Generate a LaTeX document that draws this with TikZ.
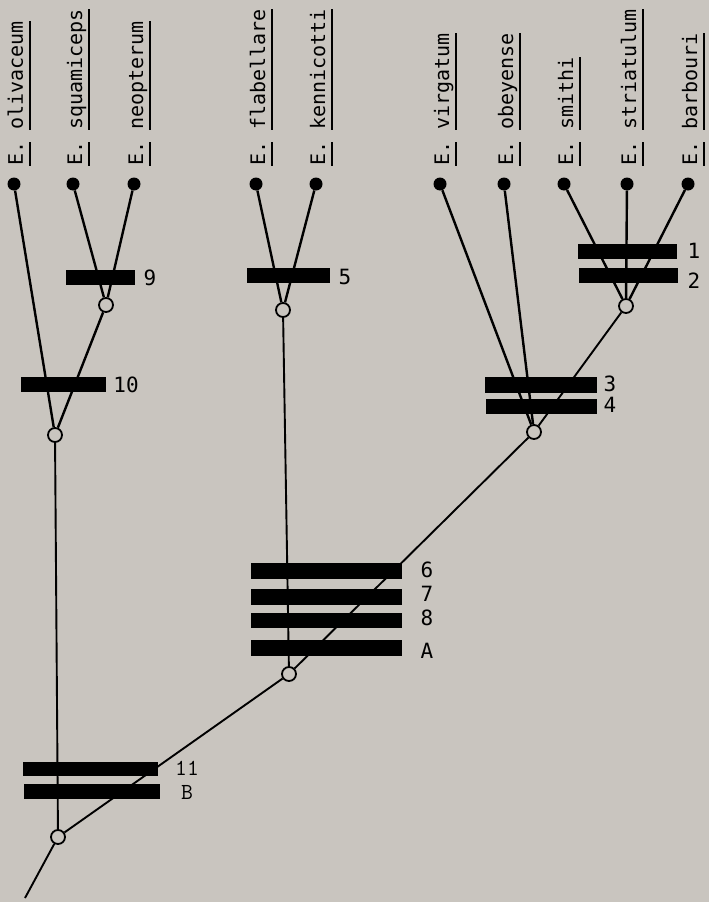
\documentclass[tikz,border=0pt]{standalone}
\usepackage{fontspec}
\newfontfamily\monof{DejaVu Sans Mono}
\definecolor{bgc}{RGB}{201,197,191}
\newcommand\ulin[1]{\sbox0{#1}\rlap{\rule[-8pt]{\wd0}{2pt}}\usebox0}
\tikzset{
  tip/.style={circle,fill=black,inner sep=0pt,minimum size=13pt},
  hub/.style={circle,draw=black,fill=bgc,line width=1.8pt,inner sep=0pt,minimum size=14pt},
  upper/.style={line width=2.4pt},
  lower/.style={line width=1.9pt},
  bar/.style={rectangle,fill=black,inner sep=0pt},
  taxon/.style={rotate=90,anchor=base west,inner sep=0pt,font=\monof\fontsize{20}{20}\selectfont},
  num/.style={inner sep=0pt,font=\monof\fontsize{21}{21}\selectfont},
  numtt/.style={inner sep=0pt,font=\ttfamily\fontsize{23}{23}\selectfont},
}
\begin{document}
\begin{tikzpicture}[x=1pt,y=-1pt]
\fill[bgc] (0,0) rectangle (709,902);
\useasboundingbox (0,0) rectangle (709,902);
% tips
\foreach \n/\x in {olivaceum/14,squamiceps/73,neopterum/134,flabellare/256,kennicotti/316,virgatum/440,obeyense/504,smithi/564,striatulum/627,barbouri/688}{
  \node[tip] (\n) at (\x,184) {};
  \node[taxon] (lab\n) at (\x+9,166) {\ulin{E.}\hspace{12pt}\ulin{\n}};
}
% hubs
\node[hub] (n9) at (106,305) {};
\node[hub] (n10) at (55,435) {};
\node[hub] (n5) at (283,310) {};
\node[hub] (n12) at (626,306) {};
\node[hub] (n34) at (534,432) {};
\node[hub] (nA) at (289,674) {};
\node[hub] (root) at (58,837) {};
\coordinate (rootend) at (25,898);
% branches
\draw[upper] (olivaceum) -- (n10);
\draw[upper] (squamiceps) -- (n9);
\draw[upper] (neopterum) -- (n9);
\draw[upper] (n9) -- (n10);
\draw[upper] (flabellare) -- (n5);
\draw[upper] (kennicotti) -- (n5);
\draw[upper] (virgatum) -- (n34);
\draw[upper] (obeyense) -- (n34);
\draw[upper] (smithi) -- (n12);
\draw[upper] (striatulum) -- (n12);
\draw[upper] (barbouri) -- (n12);
\draw[lower] (n12) -- (n34);
\draw[lower] (n34) -- (nA);
\draw[lower] (n5) -- (nA);
\draw[lower] (nA) -- (root);
\draw[lower] (n10) -- (root);
\draw[lower] (root) -- (rootend);
% bars
\node[bar,minimum width=69pt,minimum height=15pt] (b9) at (100.5,277.5) {};
\node[bar,minimum width=85pt,minimum height=15pt] (b10) at (63.5,384.5) {};
\node[bar,minimum width=83pt,minimum height=15pt] (b5) at (288.5,275.5) {};
\node[bar,minimum width=99pt,minimum height=15pt] (b1) at (627.5,251.5) {};
\node[bar,minimum width=99pt,minimum height=15pt] (b2) at (628.5,275.5) {};
\node[bar,minimum width=112pt,minimum height=16pt] (b3) at (541,385) {};
\node[bar,minimum width=111pt,minimum height=15pt] (b4) at (541.5,406.5) {};
\node[bar,minimum width=151pt,minimum height=16pt] (b6) at (326.5,571) {};
\node[bar,minimum width=151pt,minimum height=16pt] (b7) at (326.5,597) {};
\node[bar,minimum width=151pt,minimum height=15pt] (b8) at (326.5,620.5) {};
\node[bar,minimum width=151pt,minimum height=16pt] (bA) at (326.5,648) {};
\node[bar,minimum width=135pt,minimum height=14pt] (b11) at (90.5,768.5) {};
\node[bar,minimum width=136pt,minimum height=15pt] (bB) at (92,791.5) {};
% bar labels
\node[num] (l9) at (150,278) {9};
\node[num] (l10) at (126,385) {10};
\node[num] (l5) at (345,277) {5};
\node[num] (l1) at (694,251) {1};
\node[num] (l2) at (694,281) {2};
\node[num] (l3) at (610,384) {3};
\node[num] (l4) at (610,405) {4};
\node[num] (l6) at (427,570) {6};
\node[num] (l7) at (427,594) {7};
\node[num] (l8) at (427,618) {8};
\node[num] (lA) at (427,651) {A};
\node[numtt] (l11) at (187,768) {11};
\node[numtt] (lB) at (187,792) {B};
\end{tikzpicture}
\end{document}
